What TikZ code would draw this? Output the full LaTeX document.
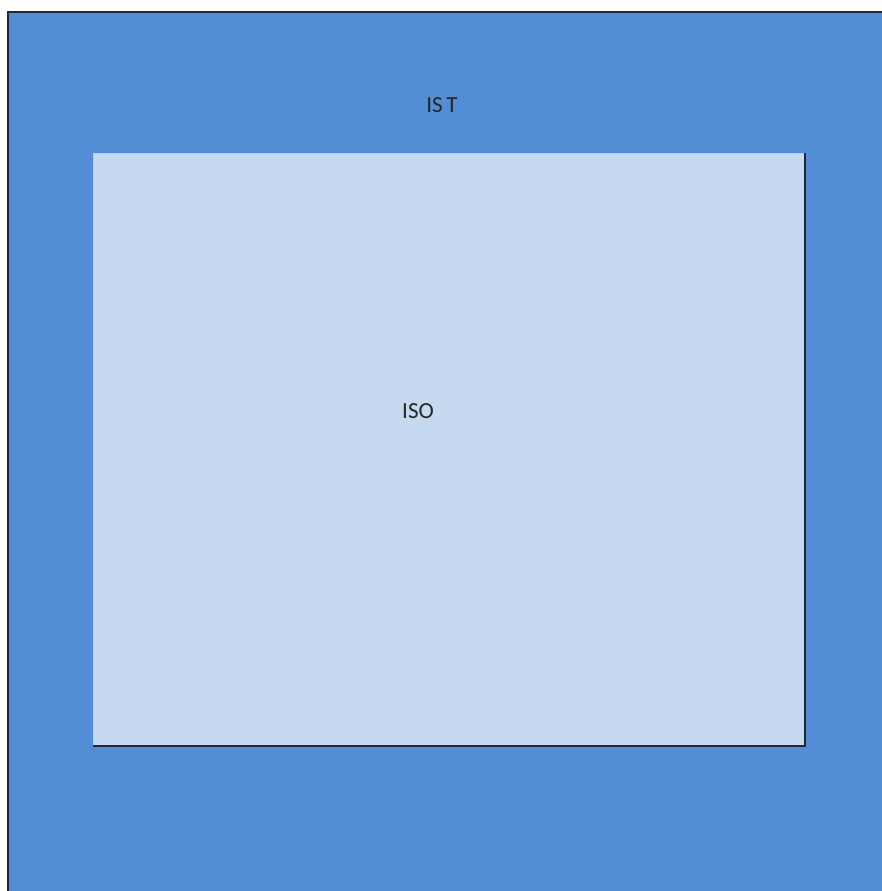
\documentclass[tikz,border=0pt]{standalone}
\usepackage{fontspec}
\setmainfont{Carlito}
\usetikzlibrary{positioning}
\definecolor{istblue}{HTML}{538DD5}
\definecolor{isofill}{HTML}{C5D9F1}
\definecolor{rim}{HTML}{222831}

\begin{document}
\begin{tikzpicture}[x=1pt, y=-1pt,
    zone/.style={inner sep=0pt, outer sep=0pt, anchor=north west},
    lbl/.style={font=\fontsize{23}{26}\selectfont, text=black!85},
]
\useasboundingbox (0,0) rectangle (881,891);
% outer field
\node[zone, fill=istblue, minimum width=880pt, minimum height=885pt] (ist) at (8,12) {};
\draw[rim, line width=2pt] (ist.south west) -- (ist.north west) -- (ist.north east);
% inner field
\node[zone, fill=isofill, draw=isofill!85!istblue, line width=0.8pt,
      minimum width=712pt, minimum height=593pt] (iso) at (93,153) {};
\draw[rim, line width=2pt] (iso.north east) -- (iso.south east) -- (iso.south west);
% labels
\node[lbl] (istlbl) at (442,105) {IS\,T};
\node[lbl] (isolbl) at (418,411) {ISO};
\end{tikzpicture}
\end{document}
